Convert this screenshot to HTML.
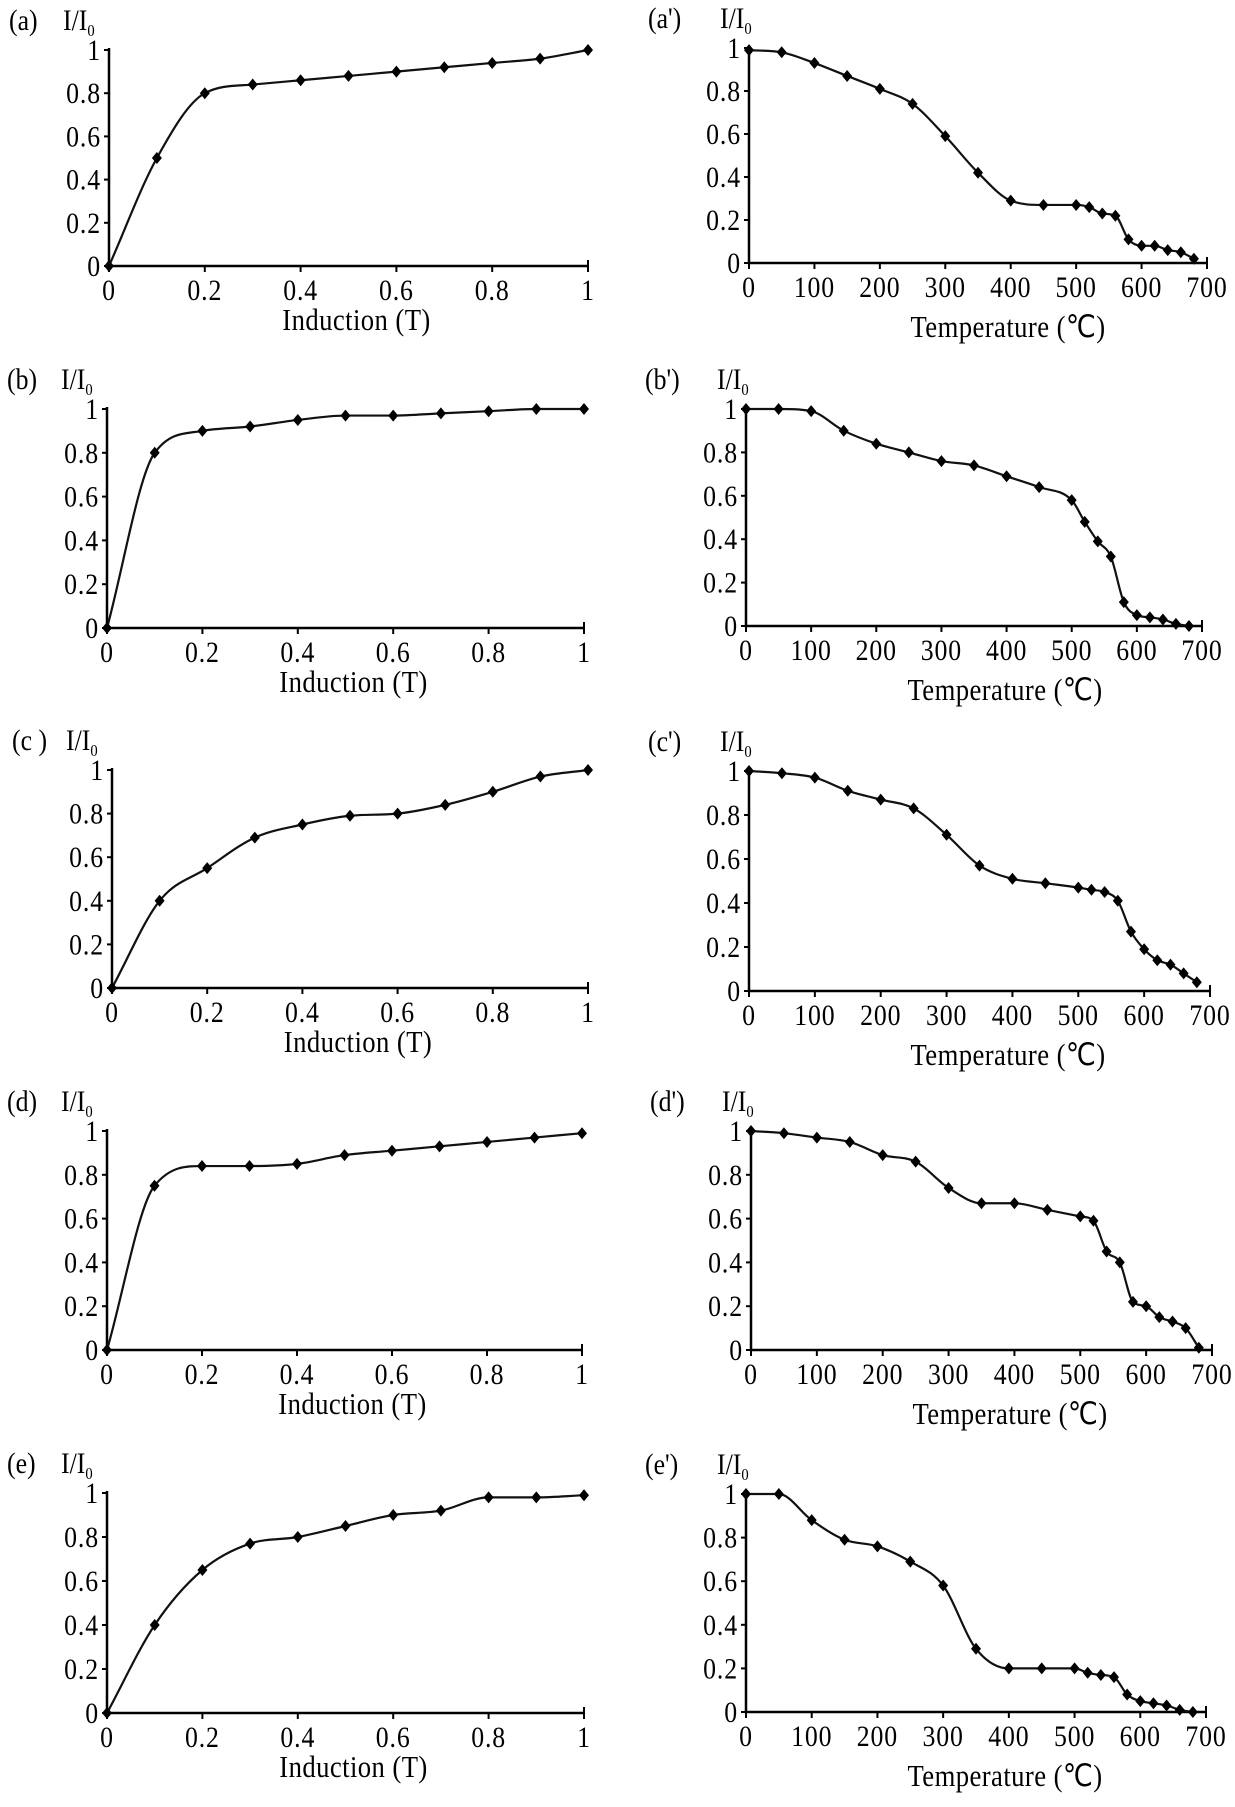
<!DOCTYPE html>
<html><head><meta charset="utf-8"><style>
html,body{margin:0;padding:0;background:#fff;}
svg{display:block;font-family:"Liberation Serif",serif;}
</style></head><body>
<svg id="fig" width="1235" height="1807" viewBox="0 0 1235 1807" xmlns="http://www.w3.org/2000/svg"></svg>
<script>
const indX = [0,0.1,0.2,0.3,0.4,0.5,0.6,0.7,0.8,0.9,1.0];
const seriesA = [0,0.5,0.8,0.84,0.86,0.88,0.9,0.92,0.94,0.96,1.0];
const seriesB = [0,0.8,0.9,0.92,0.95,0.97,0.97,0.98,0.99,1.0,1.0];
const seriesC = [0,0.4,0.55,0.69,0.75,0.79,0.8,0.84,0.9,0.97,1.0];
const seriesD = [0,0.75,0.84,0.84,0.85,0.89,0.91,0.93,0.95,0.97,0.99];
const seriesE = [0,0.4,0.65,0.77,0.8,0.85,0.9,0.92,0.98,0.98,0.99];
const tempX = [0,50,100,150,200,250,300,350,400,450,500,520,540,560,580,600,620,640,660,680];
const seriesA2 = [0.99,0.98,0.93,0.87,0.81,0.74,0.59,0.42,0.29,0.27,0.27,0.26,0.23,0.22,0.11,0.08,0.08,0.06,0.05,0.02];
const seriesB2 = [1,1,0.99,0.9,0.84,0.8,0.76,0.74,0.69,0.64,0.58,0.48,0.39,0.32,0.11,0.05,0.04,0.03,0.01,0];
const seriesC2 = [1.0,0.99,0.97,0.91,0.87,0.83,0.71,0.57,0.51,0.49,0.47,0.46,0.45,0.41,0.27,0.19,0.14,0.12,0.08,0.04];
const seriesD2 = [1,0.99,0.97,0.95,0.89,0.86,0.74,0.67,0.67,0.64,0.61,0.59,0.45,0.4,0.22,0.2,0.15,0.13,0.1,0.01];
const seriesE2 = [1,1,0.88,0.79,0.76,0.69,0.58,0.29,0.2,0.2,0.2,0.18,0.17,0.16,0.08,0.05,0.04,0.03,0.01,0];
const yTicks = [0,0.2,0.4,0.6,0.8,1];
const yTickLabels = ["0","0.2","0.4","0.6","0.8","1"];
const indTicks = [0,0.2,0.4,0.6,0.8,1];
const indTickLabels = ["0","0.2","0.4","0.6","0.8","1"];
const tempTicks = [0,100,200,300,400,500,600,700];
const tempTickLabels = ["0","100","200","300","400","500","600","700"];

const NS="http://www.w3.org/2000/svg";
const svg=document.getElementById('fig');
function mk(tag,attrs,parent,txt){const e=document.createElementNS(NS,tag);for(const k in attrs)e.setAttribute(k,attrs[k]);if(txt!==undefined)e.textContent=txt;(parent||svg).appendChild(e);return e;}
function txt(parent,x,y,size,anchor,s,ls){
  return mk('text',{x:0,y:0,'font-size':size,'text-anchor':anchor,'letter-spacing':ls||0,transform:`translate(${x},${y}) scale(0.86,1)`},parent,s);
}

const panels=[
 {id:'a',lab:'(a)',type:'ind',xs:indX,ys:seriesA,x0:109,x1:588,y0:266,y1:50},
 {id:'b',lab:'(b)',type:'ind',xs:indX,ys:seriesB,x0:107,x1:584,y0:628,y1:409},
 {id:'c',lab:'(c )',type:'ind',xs:indX,ys:seriesC,x0:112,x1:588,y0:988,y1:770},
 {id:'d',lab:'(d)',type:'ind',xs:indX,ys:seriesD,x0:107,x1:582,y0:1350,y1:1131},
 {id:'e',lab:'(e)',type:'ind',xs:indX,ys:seriesE,x0:107,x1:584,y0:1713,y1:1493},
 {id:'a2',lab:"(a')",type:'temp',xs:tempX,ys:seriesA2,x0:749,x1:1207,y0:263,y1:48},
 {id:'b2',lab:"(b')",type:'temp',xs:tempX,ys:seriesB2,x0:746,x1:1202,y0:626,y1:409},
 {id:'c2',lab:"(c')",type:'temp',xs:tempX,ys:seriesC2,x0:749,x1:1210,y0:991,y1:771},
 {id:'d2',lab:"(d')",type:'temp',xs:tempX,ys:seriesD2,x0:751,x1:1212,y0:1350,y1:1131},
 {id:'e2',lab:"(e')",type:'temp',xs:tempX,ys:seriesE2,x0:746,x1:1206,y0:1712,y1:1494}
];

function monotonePath(pts){
  const n=pts.length, dx=[], m=[], t=new Array(n);
  for(let i=0;i<n-1;i++){dx.push(pts[i+1][0]-pts[i][0]);m.push((pts[i+1][1]-pts[i][1])/dx[i]);}
  t[0]=m[0]; t[n-1]=m[n-2];
  for(let i=1;i<n-1;i++){ t[i]=(m[i-1]*m[i]<=0)?0:(m[i-1]+m[i])/2; }
  for(let i=0;i<n-1;i++){
    if(m[i]===0){t[i]=0;t[i+1]=0;continue;}
    const a=t[i]/m[i], b=t[i+1]/m[i], h=a*a+b*b;
    if(h>9){const s=3/Math.sqrt(h);t[i]=s*a*m[i];t[i+1]=s*b*m[i];}
  }
  let d=`M${pts[0][0]},${pts[0][1]}`;
  for(let i=0;i<n-1;i++){
    const h=dx[i]/3;
    d+=`C${pts[i][0]+h},${pts[i][1]+t[i]*h} ${pts[i+1][0]-h},${pts[i+1][1]-t[i+1]*h} ${pts[i+1][0]},${pts[i+1][1]}`;
  }
  return d;
}

panels.forEach(p=>{
  const g=mk('g',{});
  
  
  const xmax=p.type==='ind'?1:700;
  const sx=v=>p.x0+(p.x1-p.x0)*v/xmax;
  const sy=v=>p.y0-(p.y0-p.y1)*v;
  const isT=p.type==='temp';
  const pl=txt(g,isT?p.x0-101:p.x0-100,p.y1-20,30,'start',p.lab);
  
  
  const yl=txt(g,isT?p.x0-29:p.x0-46,p.y1-20,30,'start','I/I');
  
  
  mk('tspan',{'font-size':17,dy:6},yl,'0');
  const ax=mk('path',{d:`M${p.x0},${p.y1-2}V${p.y0}H${p.x1}`,stroke:'#000','stroke-width':2.5,fill:'none'},g);
  
  
  yTicks.forEach((t,i)=>{
    mk('line',{x1:p.x0-5,x2:p.x0,y1:sy(t),y2:sy(t),stroke:'#000','stroke-width':2},g);
    const tl=txt(g,p.x0-8,sy(t)+10,30,'end',yTickLabels[i],1);
    
    
  });
  const xt=isT?tempTicks:indTicks, xtl=isT?tempTickLabels:indTickLabels;
  xt.forEach((t,i)=>{
    mk('line',{x1:sx(t),x2:sx(t),y1:p.y0,y2:p.y0+6,stroke:'#000','stroke-width':2},g);
    const tl=txt(g,sx(t),p.y0+34,30,'middle',xtl[i],1);
    
    
  });
  mk('line',{x1:p.x1,x2:p.x1,y1:p.y0-6,y2:p.y0,stroke:'#000','stroke-width':2},g);
  const xtitle=txt(g,isT?p.x0+259:(p.x0+p.x1)/2+8,isT?p.y0+74:p.y0+64,31,'middle',isT?'Temperature (\u2103)':'Induction (T)',0.5);
  
  
  const pts=p.xs.map((x,i)=>[sx(x),sy(p.ys[i])]);
  const ln=mk('path',{d:monotonePath(pts),stroke:'#111','stroke-width':2.2,fill:'none'},g);
  
  
  pts.forEach(q=>{
    const m=mk('path',{d:`M${q[0]},${q[1]-6}L${q[0]+5},${q[1]}L${q[0]},${q[1]+6}L${q[0]-5},${q[1]}Z`,fill:'#000'},g);
    
    
  });
});
</script>
</body></html>
